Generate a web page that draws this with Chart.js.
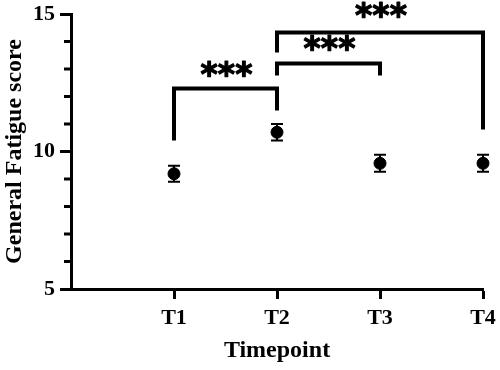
<!DOCTYPE html>
<html>
<head>
<meta charset="utf-8">
<script src="https://cdn.jsdelivr.net/npm/chart.js@4.4.0/dist/chart.umd.min.js"></script>
<style>
  html, body { margin:0; padding:0; background:#fff; }
  #wrap { width:500px; height:370px; }
</style>
</head>
<body>
<div id="wrap"><canvas id="canvas"></canvas></div>
<script>
  // data
  var categories = ['T1', 'T2', 'T3', 'T4'];
  var timepoints = [1, 2, 3, 4];
  var means = [9.19, 10.70, 9.57, 9.57];
  var sems = [0.29, 0.30, 0.31, 0.31];

  // significance brackets (y in score units)
  var bracketFrom = [1, 2, 2];
  var bracketTo = [2, 3, 4];
  var bracketTop = [12.29, 13.2, 14.33];
  var bracketLeftEnd = [10.40, 12.76, 13.6];
  var bracketRightEnd = [11.49, 12.76, 10.8];
  var starY = [13.01, 13.95, 15.15];
  var starText = ['***', '***', '***'];

  const serif = 'Liberation Serif, Times New Roman, serif';

  var points = timepoints.map(function(t, i) {
    return {x: t, y: means[i]};
  });

  var sites = [];
  sites.push({
    type: 'scatter',
    data: points,
    backgroundColor: '#000',
    borderColor: '#000',
    pointRadius: 6,
    pointHoverRadius: 6,
    showLine: false,
    clip: false,
    order: 0
  });

  for (var i = 0; i < bracketFrom.length; i++) {
    sites.push({
      type: 'line',
      data: [
        {x: bracketFrom[i], y: bracketLeftEnd[i]},
        {x: bracketFrom[i], y: bracketTop[i]},
        {x: bracketTo[i], y: bracketTop[i]},
        {x: bracketTo[i], y: bracketRightEnd[i]}
      ],
      borderColor: '#000',
      borderWidth: 4,
      borderJoinStyle: 'miter',
      borderCapStyle: 'butt',
      pointRadius: 0,
      tension: 0,
      fill: false,
      clip: false,
      order: 1
    });
  }

  // error bars, minor ticks and stars
  const extras = {
    id: 'extras',
    beforeDatasetsDraw(chart) {
      const c = chart.ctx, xs = chart.scales.x, ys = chart.scales.y;
      c.save();
      c.strokeStyle = '#000';
      c.lineWidth = 2;
      for (var i = 0; i < means.length; i++) {
        var px = xs.getPixelForValue(timepoints[i]);
        var top = ys.getPixelForValue(means[i] + sems[i]);
        var bot = ys.getPixelForValue(means[i] - sems[i]);
        c.beginPath();
        c.moveTo(px, top); c.lineTo(px, bot);
        c.moveTo(px - 6, top); c.lineTo(px + 6, top);
        c.moveTo(px - 6, bot); c.lineTo(px + 6, bot);
        c.stroke();
      }
      c.restore();
    },
    afterDraw(chart) {
      const c = chart.ctx, xs = chart.scales.x, ys = chart.scales.y;
      c.save();
      // minor ticks on y
      c.strokeStyle = '#000';
      c.lineWidth = 3;
      for (var v = 6; v < 15; v++) {
        if (v % 5 === 0) continue;
        var py = ys.getPixelForValue(v);
        c.beginPath();
        c.moveTo(ys.right, py); c.lineTo(ys.right - 7, py);
        c.stroke();
      }
      // stars, centred on their glyph box
      c.fillStyle = '#000';
      c.lineWidth = 1.2;
      c.lineJoin = 'round';
      c.font = 'bold 33px "DejaVu Sans"';
      c.textAlign = 'center';
      c.textBaseline = 'alphabetic';
      for (var k = 0; k < starText.length; k++) {
        var m = c.measureText(starText[k]);
        var mid = (m.actualBoundingBoxAscent - m.actualBoundingBoxDescent) / 2;
        var mx = xs.getPixelForValue((bracketFrom[k] + bracketTo[k]) / 2);
        var my = ys.getPixelForValue(starY[k]) + mid;
        c.fillText(starText[k], mx + 1, my);
        c.strokeText(starText[k], mx + 1, my);
      }
      c.restore();
    }
  };

  const options = {
    maintainAspectRatio: false,
    responsive: true,
    animation: false,
    events: [],
    layout: {padding: {top: 14, right: 17, left: 0, bottom: 0}},
    plugins: {
      legend: {display: false},
      tooltip: {enabled: false}
    },
    scales: {
      x: {
        type: 'linear',
        min: 0,
        max: 4,
        afterFit: function(scale) {
          scale.height = 81;
          scale.paddingLeft = 0;
          scale.paddingRight = 0;
        },
        afterBuildTicks: function(scale) {
          scale.ticks = [0, 1, 2, 3, 4].map(function(v) { return {value: v}; });
        },
        ticks: {
          color: '#000',
          padding: 6,
          maxRotation: 0,
          font: {family: serif, size: 22, weight: 'bold'},
          callback: function(v) { return v >= 1 ? categories[v - 1] : ''; }
        },
        grid: {
          drawOnChartArea: false,
          tickLength: 10,
          tickWidth: 3,
          tickColor: function(ctx) { return ctx.index === 0 ? 'rgba(0,0,0,0)' : '#000'; }
        },
        border: {color: '#000', width: 3},
        title: {
          display: true,
          text: 'Timepoint',
          color: '#000',
          padding: {top: 0, bottom: 5},
          font: {family: serif, size: 24, weight: 'bold'}
        }
      },
      y: {
        min: 5,
        max: 15,
        afterFit: function(scale) {
          scale.width = 71;
          scale.paddingTop = 0;
          scale.paddingBottom = 0;
        },
        ticks: {
          stepSize: 5,
          color: '#000',
          padding: 5,
          font: {family: serif, size: 22, weight: 'bold'}
        },
        grid: {
          drawOnChartArea: false,
          tickLength: 11,
          tickWidth: 3,
          tickColor: '#000'
        },
        border: {color: '#000', width: 3},
        title: {
          display: true,
          text: 'General Fatigue score',
          color: '#000',
          padding: {top: 0, bottom: 0},
          font: {family: serif, size: 24, weight: 'bold'}
        }
      }
    }
  };

  const ctx = document.getElementById('canvas').getContext('2d');
  var chart = new Chart(ctx, {
    type: 'scatter',
    data: {datasets: sites},
    options: options,
    plugins: [extras]
  });
</script>
</body>
</html>
